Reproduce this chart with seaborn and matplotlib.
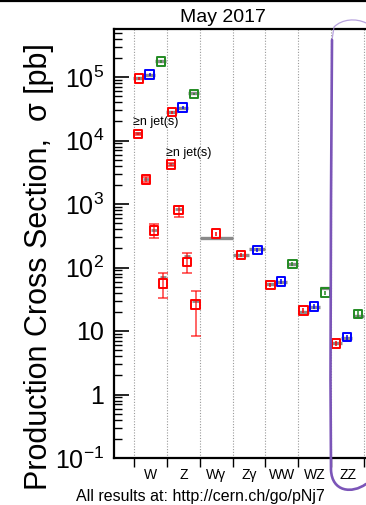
import numpy as np
import pandas as pd
import matplotlib
matplotlib.use("Agg")
import matplotlib.pyplot as plt
import seaborn as sns
from matplotlib.path import Path
from matplotlib.patches import PathPatch
from matplotlib.lines import Line2D

# ---------------- data ----------------
categories = ["W", "Z", "Wγ", "Zγ", "WW", "WZ", "ZZ"]

# inclusive measurements (pb)
incl_process = ["W", "W", "W", "Z", "Z", "Z", "Wγ", "Zγ", "Zγ",
                "WW", "WW", "WW", "WZ", "WZ", "WZ", "ZZ", "ZZ", "ZZ"]
incl_energy = ["7 TeV", "8 TeV", "13 TeV", "7 TeV", "8 TeV", "13 TeV", "7 TeV",
               "7 TeV", "8 TeV", "7 TeV", "8 TeV", "13 TeV",
               "7 TeV", "8 TeV", "13 TeV", "7 TeV", "8 TeV", "13 TeV"]
incl_sigma = [9.4e4, 1.09e5, 1.75e5, 2.8e4, 3.3e4, 5.4e4, 340, 157, 189,
              53, 60, 113, 21, 24.5, 40, 6.4, 8.0, 18.5]
incl_rel_err = [0.05, 0.05, 0.05, 0.05, 0.05, 0.05, 0.08, 0.08, 0.08,
                0.08, 0.08, 0.08, 0.08, 0.08, 0.08, 0.10, 0.10, 0.10]
incl_theory = [9.6e4, 1.07e5, 1.8e5, 2.8e4, 3.2e4, 5.5e4, 294, 160, 195,
               54, 59, 112, 20, 24, 48, 6.5, 7.9, 17.5]

# V + >= n jets at 7 TeV (pb)
jet_process = ["W", "W", "W", "W", "Z", "Z", "Z", "Z"]
jet_n = [1, 2, 3, 4, 1, 2, 3, 4]
jet_sigma = [1.26e4, 2450, 385, 56, 4160, 805, 123, 26.3]
jet_err_lo = [600, 200, 96, 23, 250, 180, 42, 17.9]
jet_err_hi = [600, 200, 99, 27, 250, 125, 45, 16.4]
jet_theory = [1.3e4, 2500, 390, 72, 4300, 830, 150, 30]

energies = ["7 TeV", "8 TeV", "13 TeV"]
palette = {"7 TeV": "#ff0000", "8 TeV": "#0000ff", "13 TeV": "#228b22"}

# ---------------- layout ----------------
W_PX, H_PX = 366, 505
# slot offsets inside a category column, by number of energies shown
slot_offsets = {1: [0.5], 2: [0.25, 0.75], 3: [0.15, 0.48, 0.82]}
jet_offsets = {1: 0.12, 2: 0.36, 3: 0.61, 4: 0.88}

incl = pd.DataFrame({"process": incl_process, "energy": incl_energy,
                     "sigma": incl_sigma, "rel": incl_rel_err,
                     "theory": incl_theory})
incl["col"] = incl["process"].map({c: i for i, c in enumerate(categories)})
incl["n"] = incl.groupby("process")["energy"].transform("count")
incl["slot"] = incl.groupby("process").cumcount()
incl["x"] = [c + slot_offsets[n][s] for c, n, s in zip(incl["col"], incl["n"], incl["slot"])]
incl["half"] = 0.5 / incl["n"]

jets = pd.DataFrame({"process": jet_process, "njet": jet_n, "sigma": jet_sigma,
                     "lo": jet_err_lo, "hi": jet_err_hi, "theory": jet_theory})
jets["energy"] = "7 TeV"
jets["x"] = [categories.index(p) + jet_offsets[n] for p, n in zip(jets["process"], jets["njet"])]

sns.set_style("ticks")
plt.rcParams["font.family"] = ["Liberation Sans", "DejaVu Sans"]
plt.rcParams["mathtext.default"] = "regular"
plt.rcParams.update({"text.color": "black", "xtick.color": "black",
                     "ytick.color": "black", "axes.edgecolor": "black",
                     "axes.labelcolor": "black"})

fig = plt.figure(figsize=(W_PX / 100, H_PX / 100), dpi=100)
ax_left, ax_bottom, ax_right, ax_top = 114, 458, 420, 29
ax = fig.add_axes([ax_left / W_PX, 1 - ax_bottom / H_PX,
                   (ax_right - ax_left) / W_PX, (ax_bottom - ax_top) / H_PX])

col_px = 32.86
x0 = -(134 - ax_left) / col_px
ax.set_xlim(x0, x0 + (ax_right - ax_left) / col_px)
ax.set_yscale("log")
ax.set_ylim(0.1, 10 ** (-1 + (ax_bottom - ax_top) / 63.5))

# column separators
for k in range(0, 9):
    ax.axvline(k, color="#9a9a9a", lw=0.8, ls=(0, (1, 1.5)), zorder=1)

theory_grey = "#8a8a8a"
# theory predictions
ax.hlines(incl["theory"], incl["x"] - incl["half"], incl["x"] + incl["half"],
          color=theory_grey, lw=2.4, zorder=2)
ax.hlines(jets["theory"], jets["x"] - 0.1, jets["x"] + 0.1,
          color=theory_grey, lw=2.0, zorder=2)

# measurement uncertainties
for _, r in incl.iterrows():
    e = r["sigma"] * r["rel"]
    ax.errorbar(r["x"], r["sigma"], yerr=[[e], [e]], fmt="none",
                ecolor=palette[r["energy"]], elinewidth=1.1, capsize=0, zorder=3)
for _, r in jets.iterrows():
    ax.errorbar(r["x"], r["sigma"], yerr=[[r["lo"]], [r["hi"]]], fmt="none",
                ecolor=palette[r["energy"]], alpha=0.65, elinewidth=1.3,
                capsize=3.5, capthick=1.3, zorder=3)

# open square markers
allpts = pd.concat([incl[["x", "sigma", "energy"]], jets[["x", "sigma", "energy"]]],
                   ignore_index=True)
sns.scatterplot(data=allpts, x="x", y="sigma", hue="energy", hue_order=energies,
                palette=palette, marker="s", s=38, linewidth=1.4, zorder=5,
                legend=False, ax=ax)
coll = ax.collections[-1]
coll.set_edgecolors(coll.get_facecolors())
coll.set_facecolors("none")

# axes styling
for side in ["left", "bottom", "top"]:
    ax.spines[side].set_linewidth(1.6)
    ax.spines[side].set_color("black")
ax.spines["right"].set_visible(False)

yt = [0.1, 1, 10, 100, 1e3, 1e4, 1e5]
ylabels = ["$10^{-1}$", "1", "10", "$10^{2}$", "$10^{3}$", "$10^{4}$", "$10^{5}$"]
ax.set_yticks(yt)
ax.set_yticklabels(ylabels, fontsize=18)
ax.yaxis.set_minor_locator(matplotlib.ticker.LogLocator(base=10, subs=np.arange(2, 10)))
ax.yaxis.set_minor_formatter(matplotlib.ticker.NullFormatter())
ax.tick_params(axis="y", which="major", direction="in", length=10.5, width=1.2, pad=7)
ax.tick_params(axis="y", which="minor", direction="in", length=5.5, width=1.0)

ax.set_xticks(np.arange(0, 9))
ax.set_xticklabels([])
ax.set_xticks(np.arange(len(categories)) + 0.5, minor=True)
ax.set_xticklabels(categories, minor=True, fontsize=10)
ax.tick_params(axis="x", which="major", direction="out", length=6.5, width=1.0)
ax.tick_params(axis="x", which="minor", length=0, pad=7)
ax.set_xlabel("")
ax.set_ylabel("")

# jet multiplicity labels
ax.text(-0.04, 1.55e4, "≥n jet(s)", fontsize=9, ha="left", va="bottom")
ax.text(0.96, 5.2e3, "≥n jet(s)", fontsize=9, ha="left", va="bottom")

# figure texts
fig.text(223 / W_PX, 1 - 18 / H_PX, "May 2017", fontsize=14, ha="center", va="center")
fig.text(39 / W_PX, 1 - 267 / H_PX, "Production Cross Section,  σ [pb]",
         fontsize=22, rotation=90, ha="center", va="center")
fig.text(200 / W_PX, 1 - 497 / H_PX, "All results at: http://cern.ch/go/pNj7",
         fontsize=11.5, ha="center", va="center")

# frame line along the top edge
fig.add_artist(Line2D([0, 1], [1 - 1 / H_PX, 1 - 1 / H_PX], transform=fig.transFigure,
                      color="black", lw=1.6))

# hand-drawn loop around the ZZ column
def fpt(x, y):
    return (x / W_PX, 1 - y / H_PX)

top_verts = [fpt(366, 23), fpt(356, 18), fpt(342, 19), fpt(334, 27), fpt(332, 40)]
top_codes = [Path.MOVETO, Path.CURVE4, Path.CURVE4, Path.CURVE4, Path.LINETO]
fig.add_artist(PathPatch(Path(top_verts, top_codes), transform=fig.transFigure,
                         fill=False, ec="#a58bd6", lw=0.9, alpha=0.8))
main_verts = [fpt(332, 40), fpt(331, 200), fpt(330.5, 380), fpt(331, 470),
              fpt(332, 492), fpt(352, 494), fpt(366, 484)]
main_codes = [Path.MOVETO, Path.LINETO, Path.LINETO, Path.LINETO,
              Path.CURVE4, Path.CURVE4, Path.CURVE4]
fig.add_artist(PathPatch(Path(main_verts, main_codes), transform=fig.transFigure,
                         fill=False, ec="#7b55b8", lw=1.9, capstyle="round"))

fig.savefig("out.png", dpi=100)
